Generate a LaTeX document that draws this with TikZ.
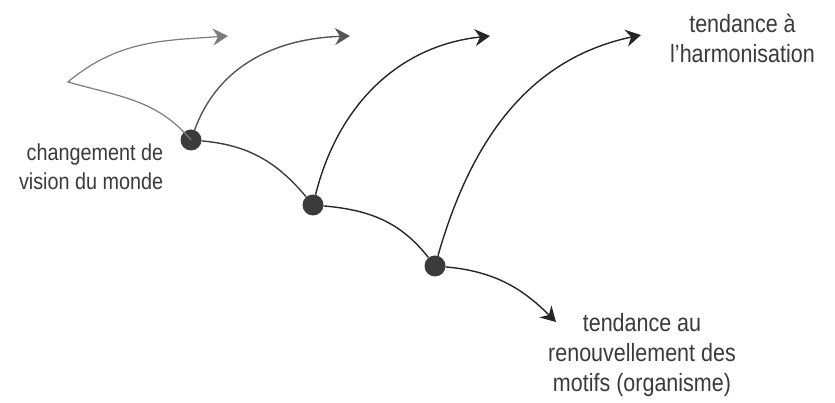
\documentclass[tikz,border=0pt]{standalone}
\usepackage{fontspec}
\setmainfont{Liberation Sans}[FakeStretch=0.86]
\usepackage{tikz}
\usetikzlibrary{arrows.meta, positioning}
\definecolor{dotgray}{HTML}{3B3B3B}
\definecolor{txtgray}{HTML}{3A3A3A}
\definecolor{gA}{HTML}{7C7C7C}
\definecolor{gB}{HTML}{555555}
\definecolor{gC}{HTML}{3E3E3E}
\definecolor{gD}{HTML}{262626}

\begin{document}
\begin{tikzpicture}[
    x=1pt, y=1pt,
    dot/.style={circle, fill=dotgray, minimum size=21pt, inner sep=0pt},
    lbl/.style={font=\fontsize{25}{30}\selectfont, text=txtgray, align=center, inner sep=0pt},
    arr/.style={-{Stealth[length=15pt, width=17pt, inset=5pt]}, line width=1.4pt, draw=#1},
    arr/.default=gD,
    ln/.style={line width=1.4pt, draw=#1},
    ln/.default=gD,
]
\useasboundingbox (0,0) rectangle (835,403);

% Branch points
\node[dot] (d1) at (191,263) {};
\node[dot] (d2) at (313,198) {};
\node[dot] (d3) at (435,137) {};

% Free ends
\coordinate (c0) at (68,321);
\coordinate (t1) at (228,367);
\coordinate (t2) at (350,367);
\coordinate (t3) at (490,367);
\coordinate (t4) at (641,368);
\coordinate (t5) at (556,81);

% Labels
\node[lbl, font=\fontsize{23}{29}\selectfont, align=right, left=17pt of d1, yshift=-27pt] (chg) {changement de\\vision du monde};
\node[lbl, right=29pt of t4, yshift=-3pt] (harm) {tendance à\\l’harmonisation};
\node[lbl] (renv) at (642,48) {tendance au\\renouvellement des\\motifs (organisme)};

% Curves
\draw[arr=gA, line width=1.2pt] (d1.center) to[out=130, in=-16] (c0) to[out=40, in=184] (t1);
\draw[arr=gB] (d1) to[out=70, in=182] (t2);
\draw[ln=gC] (d1) to[out=-5, in=130] (d2);
\draw[arr=gD] (d2) to[out=76, in=186] (t3);
\draw[ln=gD] (d2) to[out=-5, in=128] (d3);
\draw[arr=gD] (d3) to[out=74, in=192] (t4);
\draw[arr=gD] (d3) to[out=-5, in=135] (t5);
\end{tikzpicture}
\end{document}
